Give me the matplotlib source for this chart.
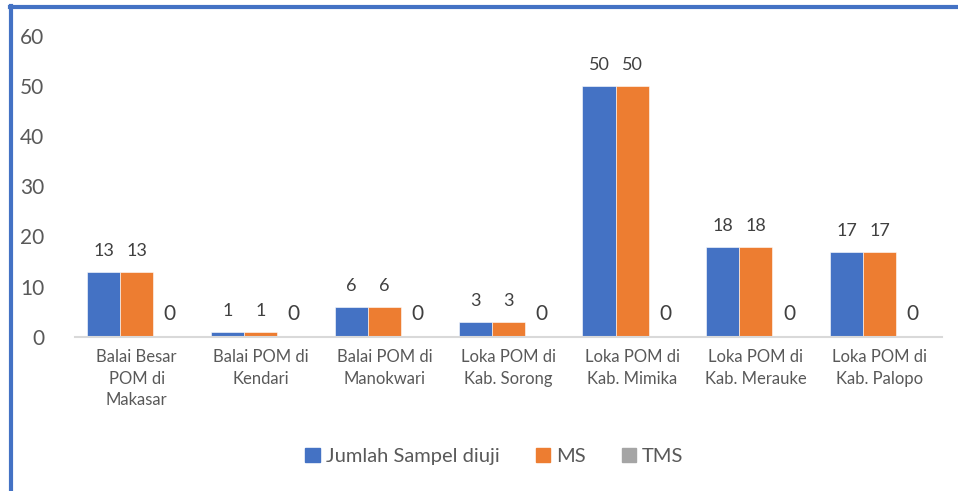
import numpy as np
from matplotlib import pyplot as plt
from matplotlib.lines import Line2D

categories = ["Balai Besar\nPOM di\nMakasar", "Balai POM di\nKendari", "Balai POM di\nManokwari",
              "Loka POM di\nKab. Sorong", "Loka POM di\nKab. Mimika", "Loka POM di\nKab. Merauke",
              "Loka POM di\nKab. Palopo"]
jumlah = [13, 1, 6, 3, 50, 18, 17]
ms = [13, 1, 6, 3, 50, 18, 17]
tms = [0, 0, 0, 0, 0, 0, 0]
series_names = ["Jumlah Sampel diuji", "MS", "TMS"]
colors = ["#4472C4", "#ED7D31", "#A5A5A5"]
yticks = [0, 10, 20, 30, 40, 50, 60]

plt.rcParams['font.family'] = ['Lato', 'DejaVu Sans']
text_col = "#595959"

fig = plt.figure(figsize=(9.58, 4.91), dpi=100)
ax = fig.add_axes([0.078, 0.314, 0.905, 0.613])

x = np.arange(len(categories))
w = 0.267
for i, (vals, name, c) in enumerate(zip([jumlah, ms, tms], series_names, colors)):
    pos = x + (i - 1) * w
    ax.bar(pos, vals, width=w, color=c, label=name, edgecolor="white", linewidth=0.4)
    fs = 15 if i == 2 else 13
    for p, v in zip(pos, vals):
        ax.text(p, v + 2.5, str(v), ha="center", va="bottom", fontsize=fs, color="#404040")

ax.set_xlim(-0.5, len(categories) - 0.5)
ax.set_ylim(0, 60)
ax.set_yticks(yticks)
ax.set_yticklabels([str(t) for t in yticks], fontsize=15, color=text_col)
ax.set_xticks(x)
ax.set_xticklabels(categories, fontsize=12, color=text_col, linespacing=1.4)
ax.tick_params(axis="both", length=0)
ax.tick_params(axis="y", pad=22)
ax.tick_params(axis="x", pad=9)
for s in ["top", "right", "left"]:
    ax.spines[s].set_visible(False)
ax.spines["bottom"].set_color("#d9d9d9")
ax.spines["bottom"].set_linewidth(1.5)

handles = [plt.Rectangle((0, 0), 1, 1, color=c) for c in colors]
fig.legend(handles, series_names, loc="center", bbox_to_anchor=(0.516, 0.07), ncol=3,
           frameon=False, fontsize=14.5, labelcolor=text_col, handlelength=0.7, handleheight=0.7,
           handletextpad=0.3, columnspacing=1.8)

# blue frame on left and top
fig.add_artist(Line2D([0.012, 0.012], [0, 0.987], transform=fig.transFigure, color="#4472C4", lw=3))
fig.add_artist(Line2D([0.0105, 1.0], [0.986, 0.986], transform=fig.transFigure, color="#4472C4", lw=3))

fig.savefig("out.png", dpi=100)
